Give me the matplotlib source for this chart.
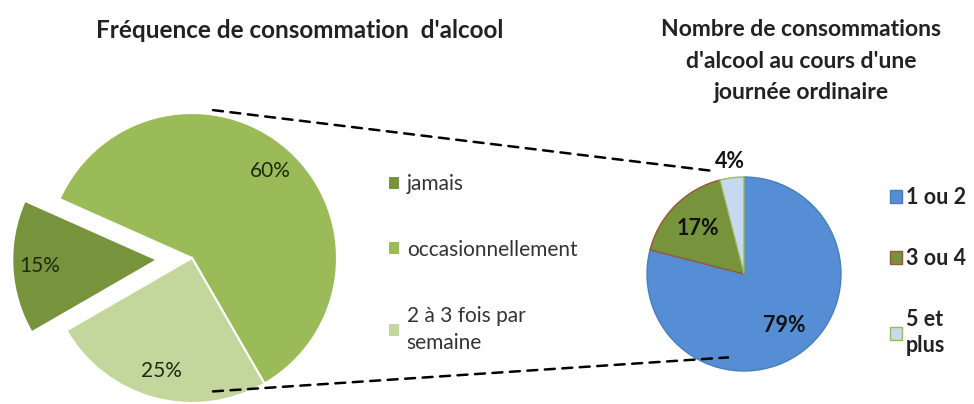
import matplotlib.pyplot as plt
from matplotlib.patches import ConnectionPatch

# data
freq_labels = ['jamais', 'occasionnellement', '2 à 3 fois par\nsemaine']
freq_values = [15, 60, 25]
freq_colors = ['#77933c', '#9bbb59', '#c3d69b']

nb_labels = ['1 ou 2', '3 ou 4', '5 et\nplus']
nb_values = [79, 17, 4]
nb_colors = ['#558ed5', '#77933c', '#c6d9f1']
nb_edges = ['#4a7ebb', '#98573a', '#9bbb59']

W, H = 974, 404
plt.rcParams['font.family'] = ['Lato', 'DejaVu Sans']
fig = plt.figure(figsize=(W / 100, H / 100), dpi=100)


def pie_axes(cx, cy, r, s=1.4):
    # axes in pixel units, radius 1 == r pixels
    ax = fig.add_axes([(cx - s * r) / W, (H - cy - s * r) / H, 2 * s * r / W, 2 * s * r / H])
    return ax, s


def fix_limits(ax, s):
    ax.set_xlim(-s, s)
    ax.set_ylim(-s, s)
    ax.axis('off')


ax1, s1 = pie_axes(192, 258, 145)
w1, _, t1 = ax1.pie(freq_values, colors=freq_colors, startangle=210, counterclock=False,
                    explode=[0.24, 0, 0], autopct='%d%%', pctdistance=0.81,
                    wedgeprops=dict(edgecolor='white', linewidth=1.5),
                    textprops=dict(fontsize=15, color='#1e2a10'))
fix_limits(ax1, s1)

ax2, s2 = pie_axes(744, 274, 97)
w2, _, t2 = ax2.pie(nb_values, colors=nb_colors, startangle=90, counterclock=False,
                    autopct='%d%%', pctdistance=0.67,
                    textprops=dict(fontsize=15.5, fontweight='bold', color='#111111'))
fix_limits(ax2, s2)
for w, ec in zip(w2, nb_edges):
    w.set_edgecolor(ec)
    w.set_linewidth(1)
x, y = t2[2].get_position()
t2[2].set_position((x * 1.17 / 0.67, y * 1.17 / 0.67))

# dashed connector lines
for pa, pb in [((0.145, 1.02), (-0.30, 1.06)), ((0.145, -0.92), (-0.165, -0.86))]:
    con = ConnectionPatch(xyA=pa, coordsA=ax1.transData, xyB=pb, coordsB=ax2.transData,
                          linestyle=(0, (4, 3)), color='black', linewidth=1.8)
    fig.add_artist(con)

# titles
fig.text(300 / W, 1 - 31 / H, "Fréquence de consommation  d'alcool", ha='center', va='center',
         fontsize=17.5, fontweight='bold', color='#222222')
fig.text(801 / W, 1 - 61 / H, "Nombre de consommations\nd'alcool au cours d'une\njournée ordinaire",
         ha='center', va='center', fontsize=16.5, fontweight='bold', color='#222222', linespacing=1.6)

# legends
leg1 = fig.legend(w1, freq_labels, loc='upper left', bbox_to_anchor=(389 / W, 1 - 174 / H),
                  frameon=False, fontsize=15, labelspacing=2.2, handlelength=0.5,
                  handleheight=0.5, handletextpad=0.35, labelcolor='#333333',
                  borderaxespad=0, borderpad=0)
for h in leg1.legend_handles:
    h.set_edgecolor('none')
for t in leg1.get_texts():
    t.set_linespacing(1.45)

leg2 = fig.legend(w2, nb_labels, loc='upper left', bbox_to_anchor=(890 / W, 1 - 187 / H),
                  frameon=False, prop=dict(size=15.5, weight='bold'), labelspacing=1.85,
                  handlelength=0.55, handleheight=0.55, handletextpad=0.2,
                  labelcolor='#222222', borderaxespad=0, borderpad=0)
for t in leg2.get_texts():
    t.set_linespacing(1.3)

fig.savefig('out.png', dpi=100)
